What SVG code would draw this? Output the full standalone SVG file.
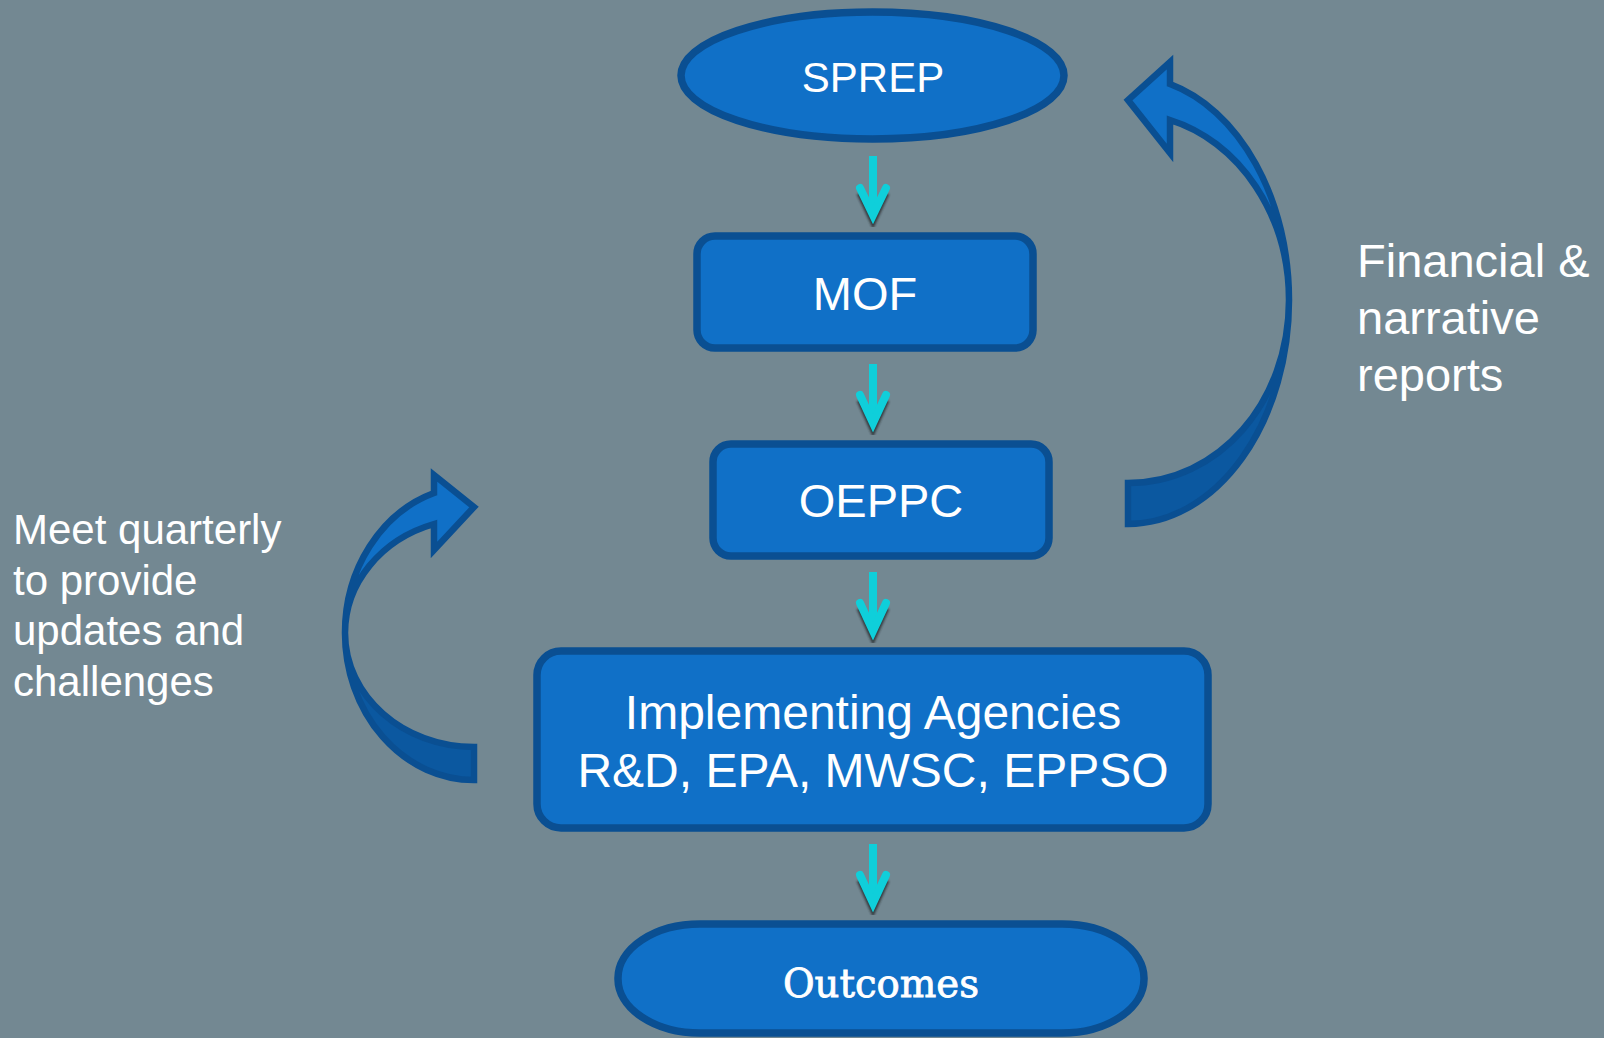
<svg xmlns="http://www.w3.org/2000/svg" width="1604" height="1038" viewBox="0 0 1604 1038">
<style>
.node{fill:#1070c7;stroke:#0a4f92;stroke-width:7.5}
.t{font-family:"Liberation Sans",Arial,sans-serif;fill:#ffffff}
.lbl{font-family:"Liberation Sans",Arial,sans-serif;fill:#ffffff;font-size:42px}
.shaft{stroke:#0fcfda;stroke-width:8;fill:none}
.head{stroke:#0fcfda;stroke-width:8;fill:none;stroke-linecap:round;stroke-linejoin:miter}
.shadow{stroke:#2b2f33;stroke-width:7;fill:none;opacity:0.85;filter:url(#blur)}
.back{fill:#0b58a0;stroke:#0a4f92;stroke-width:6.5;stroke-linejoin:miter}
.front{fill:#1070c7;stroke:#0a4f92;stroke-width:6.5;stroke-linejoin:miter}
</style>
<defs>
<filter id="blur" x="-20%" y="-20%" width="140%" height="140%"><feGaussianBlur stdDeviation="0.9"/></filter>
</defs>
<rect x="0" y="0" width="1604" height="1038" fill="#738892"/>

<g id="connectors">
  <g id="arrow-sprep-mof">
    <path class="shadow" d="M860,193 L873,221 L886,193"/>
    <path class="shaft" d="M873,156 L873,214"/>
    <path class="head" d="M860,188 L873,215 L886,188"/>
  </g>
  <g id="arrow-mof-oeppc">
    <path class="shadow" d="M860,400 L873,429 L886,400"/>
    <path class="shaft" d="M873,364 L873,422"/>
    <path class="head" d="M860,395 L873,423 L886,395"/>
  </g>
  <g id="arrow-oeppc-ia">
    <path class="shadow" d="M860,608 L873,637 L886,608"/>
    <path class="shaft" d="M873,572 L873,630"/>
    <path class="head" d="M860,603 L873,631 L886,603"/>
  </g>
  <g id="arrow-ia-outcomes">
    <path class="shadow" d="M860,880 L873,909 L886,880"/>
    <path class="shaft" d="M873,844 L873,902"/>
    <path class="head" d="M860,875 L873,903 L886,875"/>
  </g>
  <g id="curved-right">
    <path class="back" d="M1128,483 C1219,483 1289,402 1289,300 A161,224 0 0 1 1128,524 Z"/>
    <path class="front" d="M1289,300 A161,224 0 0 0 1170,84 L1170,62 L1128,100 L1170,153 L1170,120 A161,186.5 0 0 1 1289,300 Z"/>
  </g>
  <g id="curved-left">
    <path class="back" d="M474,747 C403,747 345,696 345,633 A129,147 0 0 0 474,780 Z"/>
    <path class="front" d="M345,633 A129,147 0 0 1 434,493 L434,475 L474,507 L434,550 L434,524 A129,114.6 0 0 0 345,633 Z"/>
  </g>
</g>

<g id="node-sprep">
  <ellipse class="node" cx="872.5" cy="75.5" rx="191.5" ry="63.5"/>
  <text class="t" x="873" y="92" font-size="42" text-anchor="middle">SPREP</text>
</g>
<g id="node-mof">
  <rect class="node" x="697" y="236" width="336" height="112" rx="18"/>
  <text class="t" x="865" y="310" font-size="47" text-anchor="middle">MOF</text>
</g>
<g id="node-oeppc">
  <rect class="node" x="713" y="444" width="336" height="112" rx="18"/>
  <text class="t" x="881" y="517" font-size="47" text-anchor="middle">OEPPC</text>
</g>
<g id="node-ia">
  <rect class="node" x="537" y="651" width="671" height="177" rx="24"/>
  <text class="t" x="873" y="729" font-size="48" text-anchor="middle">Implementing Agencies</text>
  <text class="t" x="873" y="787" font-size="48" text-anchor="middle">R&amp;D, EPA, MWSC, EPPSO</text>
</g>
<g id="node-outcomes">
  <rect class="node" x="618" y="924" width="526" height="109" rx="82" ry="54"/>
  <text x="881" y="997" font-family="'DejaVu Serif','Liberation Serif',serif" font-size="39" fill="#ffffff" stroke="#ffffff" stroke-width="0.8" text-anchor="middle" textLength="196" lengthAdjust="spacingAndGlyphs">Outcomes</text>
</g>

<g id="label-left">
  <text class="lbl" x="13" y="544">Meet quarterly</text>
  <text class="lbl" x="13" y="594.5">to provide</text>
  <text class="lbl" x="13" y="645">updates and</text>
  <text class="lbl" x="13" y="695.5">challenges</text>
</g>
<g id="label-right">
  <text class="t" x="1357" y="277" font-size="47">Financial &amp;</text>
  <text class="t" x="1357" y="334" font-size="47">narrative</text>
  <text class="t" x="1357" y="391" font-size="47">reports</text>
</g>
</svg>
